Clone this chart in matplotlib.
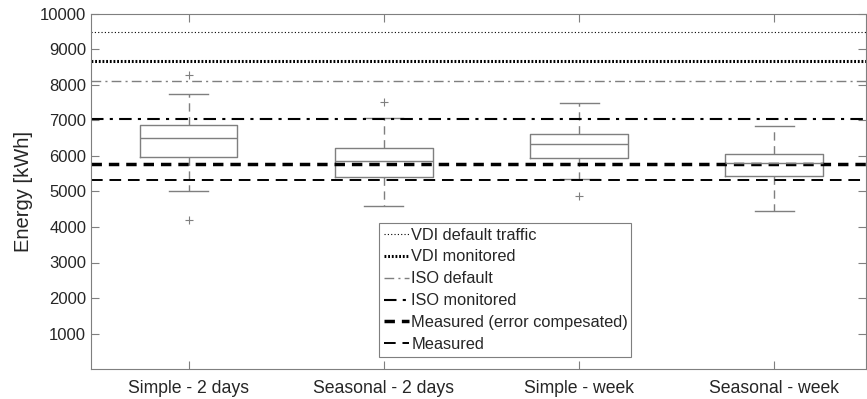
import matplotlib.pyplot as plt

plt.rcParams['font.family'] = ['Liberation Sans', 'DejaVu Sans']

# Box plot summaries per forecasting method
methods = ['Simple - 2 days', 'Seasonal - 2 days', 'Simple - week', 'Seasonal - week']
q1 = [5970, 5410, 5945, 5430]
med = [6505, 5850, 6345, 5805]
q3 = [6865, 6235, 6630, 6065]
whislo = [5015, 4585, 5360, 4460]
whishi = [7755, 7060, 7500, 6835]
fliers = [[8275, 4200], [7530], [4880], []]

# Reference energy levels
ref_labels = ['VDI default traffic', 'VDI monitored', 'ISO default', 'ISO monitored',
              'Measured (error compesated)', 'Measured']
ref_values = [9485, 8675, 8120, 7050, 5785, 5320]

gray = '#7f7f7f'
txt = '#262626'

fig = plt.figure(figsize=(8.67, 3.99), dpi=100)
ax = fig.add_axes([91 / 867, 30 / 399, 775 / 867, 355 / 399])

stats = []
for i in range(len(methods)):
    stats.append({'q1': q1[i], 'med': med[i], 'q3': q3[i],
                  'whislo': whislo[i], 'whishi': whishi[i],
                  'fliers': fliers[i], 'label': methods[i]})

ax.bxp(stats, positions=[1, 2, 3, 4], widths=0.5,
       boxprops=dict(color=gray, lw=1),
       medianprops=dict(color=gray, lw=1),
       whiskerprops=dict(color=gray, lw=1, ls=(0, (6, 4))),
       capprops=dict(color=gray, lw=1),
       capwidths=0.2,
       flierprops=dict(marker='+', markeredgecolor=gray, markersize=6, markeredgewidth=0.8))

styles = [
    dict(color='black', lw=0.8, ls=(0, (1, 2))),
    dict(color='black', lw=2.2, ls=(0, (0.6, 0.6))),
    dict(color=gray, lw=1.0, ls=(0, (7, 3, 1.5, 3))),
    dict(color='black', lw=1.5, ls=(0, (6, 3, 1.5, 3))),
    dict(color='black', lw=2.5, ls=(0, (3, 2))),
    dict(color='black', lw=1.4, ls=(0, (6, 3.5))),
]
handles = []
for val, lab, st in zip(ref_values, ref_labels, styles):
    h = ax.axhline(val, label=lab, **st)
    handles.append(h)

ax.set_xlim(0.5, 4.47)
ax.set_ylim(0, 10000)
ax.set_yticks(range(1000, 10001, 1000))
ax.set_xticks([1, 2, 3, 4])
ax.set_xticklabels(methods)
ax.set_ylabel('Energy [kWh]', fontsize=14.5, color=txt, labelpad=5)
ax.tick_params(direction='in', top=True, right=True, length=6, color=gray,
               labelsize=12, labelcolor=txt)
ax.tick_params(axis='x', pad=8, labelsize=12.7)
for sp in ax.spines.values():
    sp.set_color(gray)

leg = ax.legend(handles=handles, loc='lower left',
                bbox_to_anchor=(0.372, 0.034, 0.325, 0.369), mode='expand',
                fontsize=11.8, handlelength=1.5, handletextpad=0.15,
                labelspacing=0.42, borderaxespad=0, fancybox=False,
                framealpha=1, borderpad=0.3)
leg.get_frame().set_edgecolor(gray)
leg.get_frame().set_linewidth(0.8)
for t in leg.get_texts():
    t.set_color(txt)

fig.savefig('out.png', dpi=100)
